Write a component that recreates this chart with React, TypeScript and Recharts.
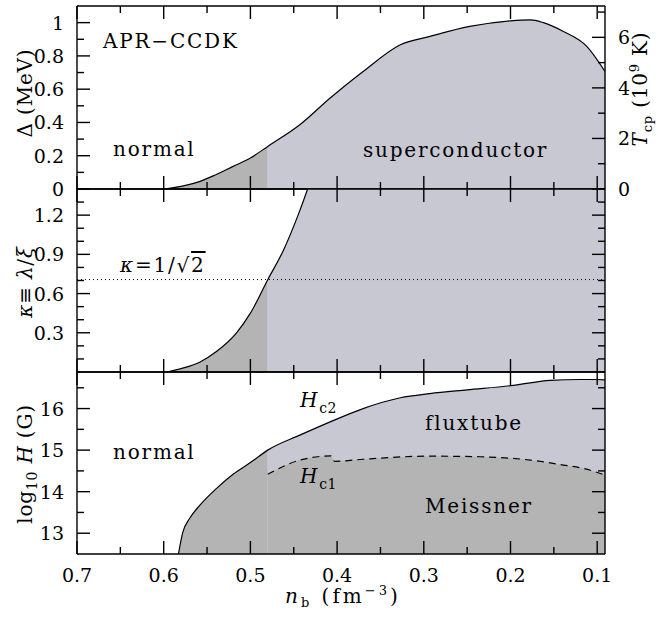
import React from 'react';
import { ComposedChart, Area, Line, XAxis, YAxis, ReferenceLine, ReferenceArea } from 'recharts';

// baryon density axis (reversed: dense on the left)
const nDomain = [0.091, 0.7];
const nMajor = [0.1, 0.2, 0.3, 0.4, 0.5, 0.6, 0.7];
const nMinor = [0.15, 0.25, 0.35, 0.45, 0.55, 0.65];
const nSplit = 0.48; // where the dark shading turns light

// panel 1: proton gap
const gapN = [0.6, 0.58, 0.558, 0.54, 0.52, 0.5, 0.48, 0.443, 0.408, 0.37, 0.327, 0.293, 0.247, 0.2, 0.177, 0.162, 0.139, 0.112, 0.091];
const gapMeV = [0, 0.016, 0.046, 0.086, 0.136, 0.186, 0.256, 0.386, 0.547, 0.706, 0.867, 0.917, 0.977, 1.011, 1.017, 1.0, 0.947, 0.857, 0.706];
const gapDomain = [0, 1.1];
const gapMajor = [0, 0.2, 0.4, 0.6, 0.8, 1];
const gapMinor = [0.1, 0.3, 0.5, 0.7, 0.9];
const tcpDomain = [0, 7.24];
const tcpMajor = [0, 2, 4, 6];
const tcpMinor = [1, 3, 5, 7];

// panel 2: Ginzburg-Landau parameter
const kappaN = [0.597, 0.58, 0.558, 0.54, 0.516, 0.5, 0.48, 0.462, 0.445, 0.434, 0.42];
const kappa = [0, 0.026, 0.077, 0.153, 0.3, 0.45, 0.706, 0.93, 1.2, 1.4, 1.68];
const kappaDomain = [0, 1.4];
const kappaMajor = [0.3, 0.6, 0.9, 1.2];
const kappaMinor = [0.1, 0.2, 0.4, 0.5, 0.7, 0.8, 1.0, 1.1, 1.3];
const kappaCrit = 0.7071;

// panel 3: critical fields
const hc2N = [0.583, 0.578, 0.57, 0.558, 0.539, 0.52, 0.5, 0.48, 0.443, 0.408, 0.37, 0.327, 0.293, 0.25, 0.2, 0.154, 0.12, 0.1, 0.091];
const hc2 = [12.5, 13.02, 13.36, 13.68, 14.08, 14.42, 14.7, 15.0, 15.36, 15.68, 16.0, 16.26, 16.36, 16.45, 16.55, 16.68, 16.7, 16.7, 16.69];
const hc1N = [0.48, 0.443, 0.407, 0.403, 0.37, 0.293, 0.235, 0.177, 0.139, 0.116, 0.091];
const hc1 = [14.42, 14.76, 14.86, 14.73, 14.78, 14.855, 14.84, 14.76, 14.64, 14.56, 14.4];
const hDomain = [12.5, 16.88];
const hMajor = [13, 14, 15, 16];
const hMinor = [13.5, 14.5, 15.5, 16.5];

const LIGHT = '#c8c8d3';
const DARK = '#b4b4b4';
const FONT = '"DejaVu Serif", serif';

// plot frame, shared by the three charts (set by their margins and axis sizes)
const PLOT_L = 77;
const PLOT_R = 605;
const MAJOR = 13; // tick lengths, px
const MINOR = 7;

const pts = (xs: number[], ys: number[]) => xs.map((n, i) => ({ n, v: ys[i] }));
const denseSide = (d: { n: number; v: number }[]) => d.filter((p) => p.n >= nSplit - 1e-9);
const thinSide = (d: { n: number; v: number }[]) => d.filter((p) => p.n <= nSplit + 1e-9);

const gapData = pts(gapN, gapMeV);
const kappaData = pts(kappaN, kappa);
const hc2Data = pts(hc2N, hc2);
const hc1Data = pts(hc1N, hc1);

const axisLine = { stroke: '#000', strokeWidth: 1.4 };
const tickFont = { fontFamily: FONT, fontSize: 19, fill: '#000' };

type Side = 'left' | 'right' | 'bottom';

function labelTick(side: Side) {
  return (p: any) => {
    const v = p.payload.value as number;
    const x = Number(p.x);
    const y = Number(p.y);
    if (side === 'left') return <text x={x - 13} y={y + 7} textAnchor="end" {...tickFont}>{String(v)}</text>;
    if (side === 'right') return <text x={x + 13} y={y + 7} textAnchor="start" {...tickFont}>{String(v)}</text>;
    return <text x={x} y={y + 28} textAnchor="middle" {...tickFont}>{String(v)}</text>;
  };
}

function frameX(bottomHeight: number, labelled: boolean) {
  const base = { type: 'number' as const, dataKey: 'n', domain: nDomain, reversed: true, allowDataOverflow: true, ticks: nMajor, interval: 0 as const, tickLine: false, tickSize: 0, tickMargin: 0, axisLine };
  return [
    <XAxis key="fb" xAxisId="b" orientation="bottom" height={bottomHeight} tick={labelled ? labelTick('bottom') : false} {...base} />,
    <XAxis key="ft" xAxisId="t" orientation="top" height={1} tick={false} {...base} />,
  ];
}

function frameY(id: string, side: 'left' | 'right', domain: number[], major: number[], labelled: boolean, width: number) {
  return (
    <YAxis key={id} yAxisId={id} orientation={side} type="number" domain={domain} allowDataOverflow ticks={major} interval={0}
      tickLine={false} tickSize={0} tickMargin={0} axisLine={axisLine} width={width} tick={labelled ? labelTick(side) : false} />
  );
}

function fill(data: { n: number; v: number }[], color: string) {
  return (
    <Area data={data} xAxisId="b" yAxisId="l" dataKey="v" type="monotone" fill={color} fillOpacity={1} stroke="none" isAnimationActive={false} />
  );
}

function curve(data: { n: number; v: number }[], dash?: string) {
  return (
    <Line data={data} xAxisId="b" yAxisId="l" dataKey="v" type="monotone" stroke="#000" strokeWidth={1.2}
      strokeDasharray={dash} dot={false} isAnimationActive={false} />
  );
}

function GapPanel() {
  return (
    <ComposedChart width={658} height={200} margin={{ top: 5, right: 0, bottom: 10, left: 0 }}>
      {fill(denseSide(gapData), DARK)}
      {fill(thinSide(gapData), LIGHT)}
      {curve(gapData)}
      {frameX(1, false)}
      {frameY('l', 'left', gapDomain, gapMajor, true, 77)}
      {frameY('r', 'right', tcpDomain, tcpMajor, true, 53)}
    </ComposedChart>
  );
}

function KappaPanel() {
  return (
    <ComposedChart width={658} height={205} margin={{ top: 8, right: 0, bottom: 12, left: 0 }}>
      {fill(denseSide(kappaData), DARK)}
      {fill(thinSide(kappaData), LIGHT)}
      <ReferenceArea xAxisId="b" yAxisId="l" x1={kappaN[kappaN.length - 2]} x2={nDomain[0]} fill={LIGHT} fillOpacity={1} stroke="none" />
      {curve(kappaData)}
      <ReferenceLine xAxisId="b" yAxisId="l" y={kappaCrit} stroke="#000" strokeWidth={1} strokeDasharray="1 3" />
      {frameX(1, false)}
      {frameY('l', 'left', kappaDomain, kappaMajor, true, 77)}
      {frameY('r', 'right', kappaDomain, kappaMajor, false, 53)}
    </ComposedChart>
  );
}

function FieldPanel() {
  return (
    <ComposedChart width={658} height={258} margin={{ top: 11, right: 0, bottom: 0, left: 0 }}>
      {fill(thinSide(hc2Data), LIGHT)}
      {fill(hc1Data, DARK)}
      {fill(denseSide(hc2Data), DARK)}
      {curve(hc2Data)}
      {curve(hc1Data, '7 5')}
      {frameX(64, true)}
      {frameY('l', 'left', hDomain, hMajor, true, 77)}
      {frameY('r', 'right', hDomain, hMajor, false, 53)}
    </ComposedChart>
  );
}

// inward tick marks on the four sides of each panel (axis decoration only)
const framePanels = [
  { top: 6, bottom: 189, dom: gapDomain, lMaj: gapMajor, lMin: gapMinor, rDom: tcpDomain, rMaj: tcpMajor, rMin: tcpMinor },
  { top: 189, bottom: 372, dom: kappaDomain, lMaj: kappaMajor, lMin: kappaMinor, rDom: kappaDomain, rMaj: kappaMajor, rMin: kappaMinor },
  { top: 372, bottom: 554, dom: hDomain, lMaj: hMajor, lMin: hMinor, rDom: hDomain, rMaj: hMajor, rMin: hMinor },
];

function TickMarks() {
  const xPx = (n: number) => PLOT_L + ((nDomain[1] - n) / (nDomain[1] - nDomain[0])) * (PLOT_R - PLOT_L);
  const out: React.ReactNode[] = [];
  framePanels.forEach((p, i) => {
    const yPx = (v: number, dom: number[]) => p.bottom - ((v - dom[0]) / (dom[1] - dom[0])) * (p.bottom - p.top);
    const xs = [...nMajor.map((n) => [n, MAJOR]), ...nMinor.map((n) => [n, MINOR])];
    xs.forEach(([n, len], j) => {
      const x = xPx(n);
      out.push(<line key={`b${i}-${j}`} x1={x} y1={p.bottom} x2={x} y2={p.bottom - len} stroke="#000" strokeWidth={1.4} />);
      out.push(<line key={`t${i}-${j}`} x1={x} y1={p.top} x2={x} y2={p.top + len} stroke="#000" strokeWidth={1.4} />);
    });
    const ls = [...p.lMaj.map((v) => [v, MAJOR]), ...p.lMin.map((v) => [v, MINOR])];
    ls.forEach(([v, len], j) => {
      const y = yPx(v, p.dom);
      out.push(<line key={`l${i}-${j}`} x1={PLOT_L} y1={y} x2={PLOT_L + len} y2={y} stroke="#000" strokeWidth={1.4} />);
    });
    const rs = [...p.rMaj.map((v) => [v, MAJOR]), ...p.rMin.map((v) => [v, MINOR])];
    rs.forEach(([v, len], j) => {
      const y = yPx(v, p.rDom);
      out.push(<line key={`r${i}-${j}`} x1={PLOT_R} y1={y} x2={PLOT_R - len} y2={y} stroke="#000" strokeWidth={1.4} />);
    });
  });
  return <g>{out}</g>;
}

const word = { fontFamily: FONT, fontSize: 20, letterSpacing: 1.8, fill: '#000' };
const it = { fontStyle: 'italic' as const };

export default function App() {
  return (
    <div style={{ position: 'absolute', left: 0, top: 0, width: 658, height: 618, background: '#fff' }}>
      <div style={{ position: 'absolute', left: 0, top: 0 }}>
        <GapPanel />
      </div>
      <div style={{ position: 'absolute', left: 0, top: 180 }}>
        <KappaPanel />
      </div>
      <div style={{ position: 'absolute', left: 0, top: 360 }}>
        <FieldPanel />
      </div>
      <svg width={658} height={618} style={{ position: 'absolute', left: 0, top: 0, pointerEvents: 'none' }}>
        <TickMarks />
        <text x={103} y={48} {...word}>APR−CCDK</text>
        <text x={113} y={156} {...word}>normal</text>
        <text x={363} y={157} {...word}>superconductor</text>
        <text x={120} y={272} {...word}>
          <tspan {...it}>κ</tspan>=1/√<tspan textDecoration="overline">2</tspan>
        </text>
        <text x={113} y={459} {...word}>normal</text>
        <text x={300} y={407} {...word}>
          <tspan {...it}>H</tspan>
          <tspan dy={6} fontSize={14} letterSpacing={0.5}>c2</tspan>
        </text>
        <text x={300} y={483} {...word}>
          <tspan {...it}>H</tspan>
          <tspan dy={6} fontSize={14} letterSpacing={0.5}>c1</tspan>
        </text>
        <text x={425} y={430} {...word}>fluxtube</text>
        <text x={425} y={513} {...word}>Meissner</text>

        {/* axis titles */}
        <text x={32} y={93} transform="rotate(-90 32 93)" textAnchor="middle" {...word} letterSpacing={0.8}>
          Δ (MeV)
        </text>
        <text x={32} y={282} transform="rotate(-90 32 282)" textAnchor="middle" {...word} letterSpacing={0.8}>
          <tspan {...it}>κ</tspan>≡ <tspan {...it}>λ</tspan>/<tspan {...it}>ξ</tspan>
        </text>
        <text x={32} y={464} transform="rotate(-90 32 464)" textAnchor="middle" {...word} letterSpacing={0.8}>
          log<tspan dy={5} fontSize={14}>10</tspan>
          <tspan dy={-5} {...it}> H</tspan> (G)
        </text>
        <text x={647} y={89} transform="rotate(-90 647 89)" textAnchor="middle" {...word} letterSpacing={0.8}>
          <tspan {...it}>T</tspan>
          <tspan dy={5} fontSize={13}>cp</tspan>
          <tspan dy={-5}> (10</tspan>
          <tspan dy={-8} fontSize={13}>9</tspan>
          <tspan dy={8}> K)</tspan>
        </text>
        <text x={285} y={603} {...word} letterSpacing={3}>
          <tspan {...it}>n</tspan>
          <tspan dy={4} fontSize={13}>b</tspan>
          <tspan dy={-4}> (fm</tspan>
          <tspan dy={-8} fontSize={13}>−3</tspan>
          <tspan dy={8}>)</tspan>
        </text>
      </svg>
    </div>
  );
}
